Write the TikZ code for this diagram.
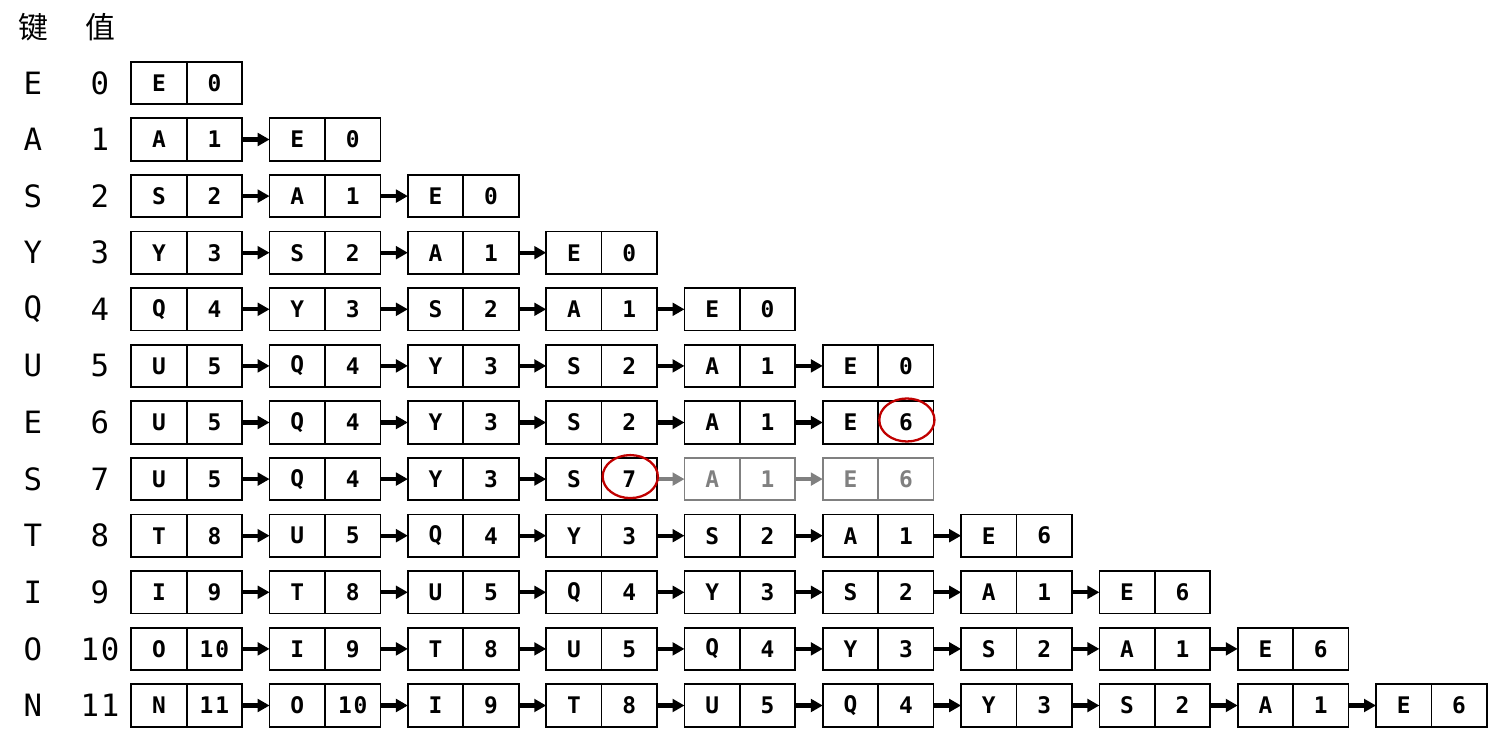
\documentclass[tikz,border=0pt]{standalone}
\usepackage{fontspec}
\usepackage{xcolor}
\usetikzlibrary{arrows.meta}
\newfontfamily\cjk{Noto Sans CJK SC}
\newfontfamily\labfont{DejaVu Sans Mono}[LetterSpace=6]
\newfontfamily\cellfont{DejaVu Sans Mono}[LetterSpace=8]
\definecolor{vred}{HTML}{C00000}
\definecolor{vgray}{HTML}{808080}

\tikzset{
	cell/.style={draw, line width=1pt, minimum width=1.108cm, minimum height=0.85cm, inner sep=0pt, outer sep=0pt, font=\cellfont\bfseries\fontsize{13}{15}\selectfont},
	lab/.style={font=\labfont\fontsize{17.5}{20}\selectfont, inner sep=0pt},
	head/.style={font=\cjk\fontsize{17}{20}\selectfont, inner sep=0pt},
	link/.style={line width=2.3pt, -{Triangle[length=6.8pt,width=7.2pt]}},
	ring/.style={draw=vred, line width=1.3pt}
}

\begin{document}
\begin{tikzpicture}[x=0.02cm, y=-0.02cm]
		\useasboundingbox (0,0) rectangle (1512,756);
		% column heads
		\node[head] (keyhead) at (33.5,27.5) {键};
		\node[head] (valhead) at (100,27.5) {值};
		% keys and values
		\node[lab] (key0) at (33,82.9) {E};   \node[lab] (val0) at (100,82.9) {0};
		\node[lab] (key1) at (33,139.5) {A};  \node[lab] (val1) at (100,139.5) {1};
		\node[lab] (key2) at (33,196.1) {S};  \node[lab] (val2) at (100,196.1) {2};
		\node[lab] (key3) at (33,252.7) {Y};  \node[lab] (val3) at (100,252.7) {3};
		\node[lab] (key4) at (33,309.3) {Q};  \node[lab] (val4) at (100,309.3) {4};
		\node[lab] (key5) at (33,365.9) {U};  \node[lab] (val5) at (100,365.9) {5};
		\node[lab] (key6) at (33,422.5) {E};  \node[lab] (val6) at (100,422.5) {6};
		\node[lab] (key7) at (33,479.1) {S};  \node[lab] (val7) at (100,479.1) {7};
		\node[lab] (key8) at (33,535.7) {T};  \node[lab] (val8) at (100,535.7) {8};
		\node[lab] (key9) at (33,592.3) {I};  \node[lab] (val9) at (100,592.3) {9};
		\node[lab] (key10) at (33,648.9) {O}; \node[lab] (val10) at (100,648.9) {10};
		\node[lab] (key11) at (33,705.5) {N}; \node[lab] (val11) at (100,705.5) {11};
		% row 0
		\foreach \k/\v [count=\c from 0] in {E/0} {
			\node[cell, anchor=west] (k0-\c) at ({131.3+138.3*\c},82.9) {\k};
			\node[cell, anchor=west] (v0-\c) at (k0-\c.east) {\v};
		}
		% row 1
		\foreach \k/\v [count=\c from 0] in {A/1, E/0} {
			\node[cell, anchor=west] (k1-\c) at ({131.3+138.3*\c},139.5) {\k};
			\node[cell, anchor=west] (v1-\c) at (k1-\c.east) {\v};
			\ifnum\c>0 \pgfmathtruncatemacro\p{\c-1} \draw[link] (v1-\p.east) -- (k1-\c.west); \fi
		}
		% row 2
		\foreach \k/\v [count=\c from 0] in {S/2, A/1, E/0} {
			\node[cell, anchor=west] (k2-\c) at ({131.3+138.3*\c},196.1) {\k};
			\node[cell, anchor=west] (v2-\c) at (k2-\c.east) {\v};
			\ifnum\c>0 \pgfmathtruncatemacro\p{\c-1} \draw[link] (v2-\p.east) -- (k2-\c.west); \fi
		}
		% row 3
		\foreach \k/\v [count=\c from 0] in {Y/3, S/2, A/1, E/0} {
			\node[cell, anchor=west] (k3-\c) at ({131.3+138.3*\c},252.7) {\k};
			\node[cell, anchor=west] (v3-\c) at (k3-\c.east) {\v};
			\ifnum\c>0 \pgfmathtruncatemacro\p{\c-1} \draw[link] (v3-\p.east) -- (k3-\c.west); \fi
		}
		% row 4
		\foreach \k/\v [count=\c from 0] in {Q/4, Y/3, S/2, A/1, E/0} {
			\node[cell, anchor=west] (k4-\c) at ({131.3+138.3*\c},309.3) {\k};
			\node[cell, anchor=west] (v4-\c) at (k4-\c.east) {\v};
			\ifnum\c>0 \pgfmathtruncatemacro\p{\c-1} \draw[link] (v4-\p.east) -- (k4-\c.west); \fi
		}
		% row 5
		\foreach \k/\v [count=\c from 0] in {U/5, Q/4, Y/3, S/2, A/1, E/0} {
			\node[cell, anchor=west] (k5-\c) at ({131.3+138.3*\c},365.9) {\k};
			\node[cell, anchor=west] (v5-\c) at (k5-\c.east) {\v};
			\ifnum\c>0 \pgfmathtruncatemacro\p{\c-1} \draw[link] (v5-\p.east) -- (k5-\c.west); \fi
		}
		% row 6
		\foreach \k/\v [count=\c from 0] in {U/5, Q/4, Y/3, S/2, A/1, E/6} {
			\node[cell, anchor=west] (k6-\c) at ({131.3+138.3*\c},422.5) {\k};
			\node[cell, anchor=west] (v6-\c) at (k6-\c.east) {\v};
			\ifnum\c>0 \pgfmathtruncatemacro\p{\c-1} \draw[link] (v6-\p.east) -- (k6-\c.west); \fi
		}
		\draw[ring] (v6-5.center) ++(1,-2.5) ellipse [x radius=27.6, y radius=21.5];
		% row 7
		\foreach \k/\v/\col [count=\c from 0] in {U/5/black, Q/4/black, Y/3/black, S/7/black, A/1/vgray, E/6/vgray} {
			\node[cell, draw=\col, text=\col, anchor=west] (k7-\c) at ({131.3+138.3*\c},479.1) {\k};
			\node[cell, draw=\col, text=\col, anchor=west] (v7-\c) at (k7-\c.east) {\v};
			\ifnum\c>0 \pgfmathtruncatemacro\p{\c-1} \draw[link, color=\col] (v7-\p.east) -- (k7-\c.west); \fi
		}
		\draw[ring] (v7-3.center) ++(1,-2.5) ellipse [x radius=27.6, y radius=21.5];
		% row 8
		\foreach \k/\v [count=\c from 0] in {T/8, U/5, Q/4, Y/3, S/2, A/1, E/6} {
			\node[cell, anchor=west] (k8-\c) at ({131.3+138.3*\c},535.7) {\k};
			\node[cell, anchor=west] (v8-\c) at (k8-\c.east) {\v};
			\ifnum\c>0 \pgfmathtruncatemacro\p{\c-1} \draw[link] (v8-\p.east) -- (k8-\c.west); \fi
		}
		% row 9
		\foreach \k/\v [count=\c from 0] in {I/9, T/8, U/5, Q/4, Y/3, S/2, A/1, E/6} {
			\node[cell, anchor=west] (k9-\c) at ({131.3+138.3*\c},592.3) {\k};
			\node[cell, anchor=west] (v9-\c) at (k9-\c.east) {\v};
			\ifnum\c>0 \pgfmathtruncatemacro\p{\c-1} \draw[link] (v9-\p.east) -- (k9-\c.west); \fi
		}
		% row 10
		\foreach \k/\v [count=\c from 0] in {O/10, I/9, T/8, U/5, Q/4, Y/3, S/2, A/1, E/6} {
			\node[cell, anchor=west] (k10-\c) at ({131.3+138.3*\c},648.9) {\k};
			\node[cell, anchor=west] (v10-\c) at (k10-\c.east) {\v};
			\ifnum\c>0 \pgfmathtruncatemacro\p{\c-1} \draw[link] (v10-\p.east) -- (k10-\c.west); \fi
		}
		% row 11
		\foreach \k/\v [count=\c from 0] in {N/11, O/10, I/9, T/8, U/5, Q/4, Y/3, S/2, A/1, E/6} {
			\node[cell, anchor=west] (k11-\c) at ({131.3+138.3*\c},705.5) {\k};
			\node[cell, anchor=west] (v11-\c) at (k11-\c.east) {\v};
			\ifnum\c>0 \pgfmathtruncatemacro\p{\c-1} \draw[link] (v11-\p.east) -- (k11-\c.west); \fi
		}
	\end{tikzpicture}
\end{document}
